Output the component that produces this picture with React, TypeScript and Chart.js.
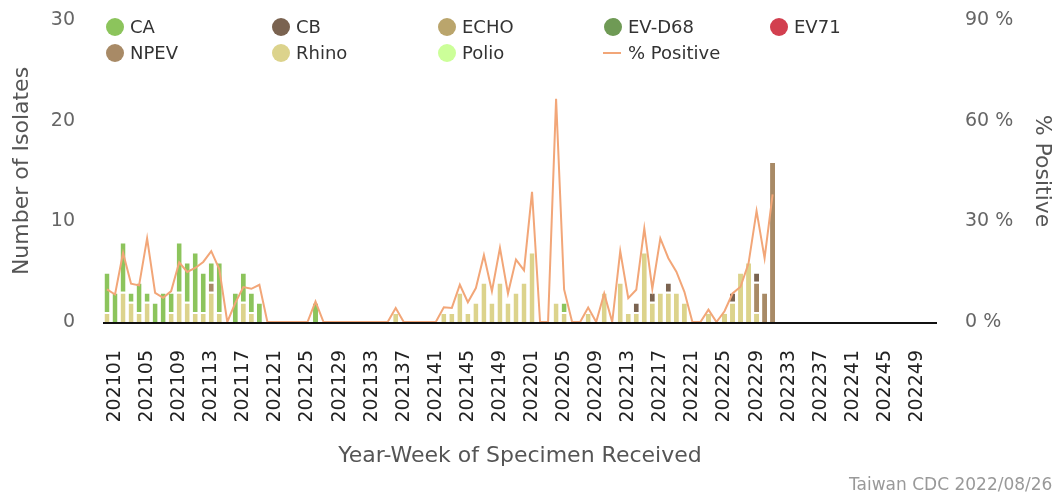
import React, { useEffect, useRef } from 'react';
import { Chart, registerables } from 'chart.js';

Chart.register(...registerables);

const FONT = 'DejaVu Sans';

// Categories: year-week of specimen received
const weeks2021: string[] = Array.from({ length: 52 }, (_, i) => `2021${String(i + 1).padStart(2, '0')}`);
const weeks2022: string[] = Array.from({ length: 51 }, (_, i) => `2022${String(i + 1).padStart(2, '0')}`);
const weeks: string[] = ['202053', ...weeks2021, ...weeks2022];

// Series values (number of isolates), one entry per week from 202053 onward
const CA = [
  4, 3, 5, 1, 3, 1, 2, 3, 2, 5, 4, 6, 4, 2, 5, 0, 3, 3, 2, 2,
  0, 0, 0, 0, 0, 0, 2, 0, 0, 0, 0, 0, 0, 0, 0, 0, 0, 0, 0, 0,
  0, 0, 0, 0, 0, 0, 0, 0, 0, 0, 0, 0, 0, 0, 0, 0, 0, 1, 0, 0,
  0, 0, 0, 0, 0, 0, 0, 0, 0, 0, 0, 0, 0, 0, 0, 0, 0, 0, 0, 0,
  0, 0, 0, 0,
];
const CB = [
  0, 0, 0, 0, 0, 0, 0, 0, 0, 0, 0, 0, 0, 0, 0, 0, 0, 0, 0, 0,
  0, 0, 0, 0, 0, 0, 0, 0, 0, 0, 0, 0, 0, 0, 0, 0, 0, 0, 0, 0,
  0, 0, 0, 0, 0, 0, 0, 0, 0, 0, 0, 0, 0, 0, 0, 0, 0, 0, 0, 0,
  0, 0, 0, 0, 0, 0, 1, 0, 1, 0, 1, 0, 0, 0, 0, 0, 0, 0, 1, 0,
  0, 1, 0, 0,
];
const ECHO: number[] = [];
const EVD68: number[] = [];
const EV71: number[] = [];
const NPEV = [
  0, 0, 0, 0, 0, 0, 0, 0, 0, 0, 0, 0, 0, 1, 0, 0, 0, 0, 0, 0,
  0, 0, 0, 0, 0, 0, 0, 0, 0, 0, 0, 0, 0, 0, 0, 0, 0, 0, 0, 0,
  0, 0, 0, 0, 0, 0, 0, 0, 0, 0, 0, 0, 0, 0, 0, 0, 0, 0, 0, 0,
  0, 0, 0, 0, 0, 0, 0, 0, 0, 0, 0, 0, 0, 0, 0, 0, 0, 0, 0, 0,
  0, 3, 3, 16,
];
const Rhino = [
  1, 0, 3, 2, 1, 2, 0, 0, 1, 3, 2, 1, 1, 3, 1, 0, 0, 2, 1, 0,
  0, 0, 0, 0, 0, 0, 0, 0, 0, 0, 0, 0, 0, 0, 0, 0, 1, 0, 0, 0,
  0, 0, 1, 1, 3, 1, 2, 4, 2, 4, 2, 3, 4, 7, 0, 0, 2, 1, 0, 0,
  1, 0, 3, 0, 4, 1, 1, 7, 2, 3, 3, 3, 2, 0, 0, 1, 0, 1, 2, 5,
  6, 1, 0, 0,
];
const Polio: number[] = [];

// % Positive
const pctPositive = [
  9.7, 8.2, 20.6, 11.4, 10.9, 24.9, 8.7, 7.2, 9.2, 17.8, 14.9, 16.1, 17.9, 21.1, 15.8, 0, 5.7, 10.4, 9.9, 11.1,
  0, 0, 0, 0, 0, 0, 6.1, 0, 0, 0, 0, 0, 0, 0, 0, 0, 4.2, 0, 0, 0,
  0, 0, 4.4, 4.2, 11.1, 5.9, 10.1, 19.9, 9.2, 22.1, 8.5, 18.6, 15.4, 38.8, 0, 0, 66.5, 9.7, 0, 0,
  4.3, 0, 8.5, 0, 21.1, 7.1, 9.6, 27.9, 9.9, 24.9, 19, 15, 9, 0, 0, 3.7, 0, 3.2, 8.5, 10.5,
  17.5, 33.1, 19, 38,
];

// Axis ticks
const leftTicks = [0, 10, 20, 30];
const rightTicks = [0, 30, 60, 90];

const COLORS: Record<string, string> = {
  CA: '#8cc45c',
  CB: '#7a6350',
  ECHO: '#baa56c',
  'EV-D68': '#6f9a55',
  EV71: '#d23f4f',
  NPEV: '#a88a66',
  Rhino: '#dcd38c',
  Polio: '#ccff99',
  '% Positive': '#f2a678',
};

// stacking order bottom -> top
const barSeries: { name: string; data: number[] }[] = [
  { name: 'Polio', data: Polio },
  { name: 'Rhino', data: Rhino },
  { name: 'NPEV', data: NPEV },
  { name: 'EV71', data: EV71 },
  { name: 'EV-D68', data: EVD68 },
  { name: 'ECHO', data: ECHO },
  { name: 'CB', data: CB },
  { name: 'CA', data: CA },
];

// legend grid order
const legendItems: { name: string; kind: 'dot' | 'line' }[] = [
  { name: 'CA', kind: 'dot' },
  { name: 'CB', kind: 'dot' },
  { name: 'ECHO', kind: 'dot' },
  { name: 'EV-D68', kind: 'dot' },
  { name: 'EV71', kind: 'dot' },
  { name: 'NPEV', kind: 'dot' },
  { name: 'Rhino', kind: 'dot' },
  { name: 'Polio', kind: 'dot' },
  { name: '% Positive', kind: 'line' },
];

const baseLinePlugin = {
  id: 'baseLine',
  afterDatasetsDraw(chart: any) {
    const { ctx, chartArea } = chart;
    ctx.save();
    ctx.strokeStyle = '#111';
    ctx.lineWidth = 2;
    ctx.beginPath();
    ctx.moveTo(chartArea.left, chartArea.bottom + 1);
    ctx.lineTo(chartArea.right, chartArea.bottom + 1);
    ctx.stroke();
    ctx.restore();
  },
};

export default function App() {
  const canvasRef = useRef<HTMLCanvasElement | null>(null);

  useEffect(() => {
    const canvas = canvasRef.current;
    if (!canvas) return;
    const datasets: any[] = barSeries.map((s) => ({
      type: 'bar',
      label: s.name,
      data: s.data,
      backgroundColor: COLORS[s.name],
      borderColor: '#ffffff',
      borderWidth: { top: 2, right: 0, bottom: 0, left: 0 },
      borderSkipped: false,
      barPercentage: 0.62,
      categoryPercentage: 1,
      yAxisID: 'y',
      order: 1,
    }));
    datasets.push({
      type: 'line',
      label: '% Positive',
      data: pctPositive,
      borderColor: COLORS['% Positive'],
      backgroundColor: COLORS['% Positive'],
      borderWidth: 2,
      pointRadius: 0,
      tension: 0,
      fill: false,
      yAxisID: 'y1',
      order: 0,
    });

    const chart = new Chart(canvas, {
      type: 'bar',
      data: { labels: weeks, datasets },
      plugins: [baseLinePlugin],
      options: {
        animation: false,
        responsive: false,
        layout: { padding: { top: 20, left: 0, right: 0, bottom: 0 } },
        plugins: { legend: { display: false }, tooltip: { enabled: false } },
        scales: {
          x: {
            stacked: true,
            offset: true,
            grid: { display: false, drawTicks: false },
            border: { display: false },
            ticks: {
              autoSkip: false,
              minRotation: 90,
              maxRotation: 90,
              padding: 28,
              color: '#222',
              font: { family: FONT, size: 19 },
              callback: (_v: any, i: number) => (i % 4 === 1 ? weeks[i] : ''),
            },
            title: {
              display: true,
              text: 'Year-Week of Specimen Received',
              color: '#555',
              font: { family: FONT, size: 22 },
              padding: { top: 0, bottom: 27 },
            },
            afterFit: (s: any) => {
              s.height = 174;
            },
          },
          y: {
            position: 'left',
            stacked: true,
            min: leftTicks[0],
            max: leftTicks[leftTicks.length - 1],
            grid: { display: false, drawTicks: true, tickLength: 28 },
            border: { display: false },
            ticks: {
              stepSize: 10,
              padding: 0,
              color: '#666',
              font: { family: FONT, size: 19 },
            },
            title: {
              display: true,
              text: 'Number of Isolates',
              color: '#555',
              font: { family: FONT, size: 22 },
              padding: { top: 9, bottom: 0 },
            },
            afterFit: (s: any) => {
              s.width = 103;
            },
          },
          y1: {
            position: 'right',
            stacked: false,
            min: rightTicks[0],
            max: rightTicks[rightTicks.length - 1],
            grid: { display: false, drawTicks: true, tickLength: 28 },
            border: { display: false },
            ticks: {
              stepSize: 30,
              padding: 0,
              color: '#666',
              font: { family: FONT, size: 19 },
              callback: (v: any) => `${v} %`,
            },
            title: {
              display: true,
              text: '% Positive',
              color: '#555',
              font: { family: FONT, size: 22 },
              padding: { top: 1, bottom: 0 },
            },
            afterFit: (s: any) => {
              s.width = 119;
            },
          },
        },
      } as any,
    });
    return () => chart.destroy();
  }, []);

  return (
    <div
      style={{
        position: 'fixed',
        left: 0,
        top: 0,
        width: 1056,
        height: 496,
        overflow: 'hidden',
        background: '#fff',
        fontFamily: FONT,
      }}
    >
      <canvas ref={canvasRef} width={1056} height={496} style={{ display: 'block' }} />
      {legendItems.map((item, idx) => {
        const col = idx % 5;
        const row = Math.floor(idx / 5);
        const cx = 115 + 166 * col;
        const cy = 27 + 26 * row;
        return (
          <div key={item.name}>
            {item.kind === 'dot' ? (
              <div
                style={{
                  position: 'absolute',
                  left: cx - 9,
                  top: cy - 9,
                  width: 18,
                  height: 18,
                  borderRadius: '50%',
                  background: COLORS[item.name],
                }}
              />
            ) : (
              <div
                style={{
                  position: 'absolute',
                  left: cx - 10,
                  top: cy - 1,
                  width: 18,
                  height: 2,
                  background: COLORS[item.name],
                }}
              />
            )}
            <div
              style={{
                position: 'absolute',
                left: cx + 15,
                top: cy - 11,
                height: 22,
                lineHeight: '22px',
                fontSize: 18,
                color: '#333',
                whiteSpace: 'nowrap',
              }}
            >
              {item.name}
            </div>
          </div>
        );
      })}
      <div
        style={{
          position: 'absolute',
          left: 849,
          top: 474,
          fontSize: 17,
          lineHeight: '20px',
          color: '#999',
          whiteSpace: 'nowrap',
        }}
      >
        Taiwan CDC 2022/08/26
      </div>
    </div>
  );
}
